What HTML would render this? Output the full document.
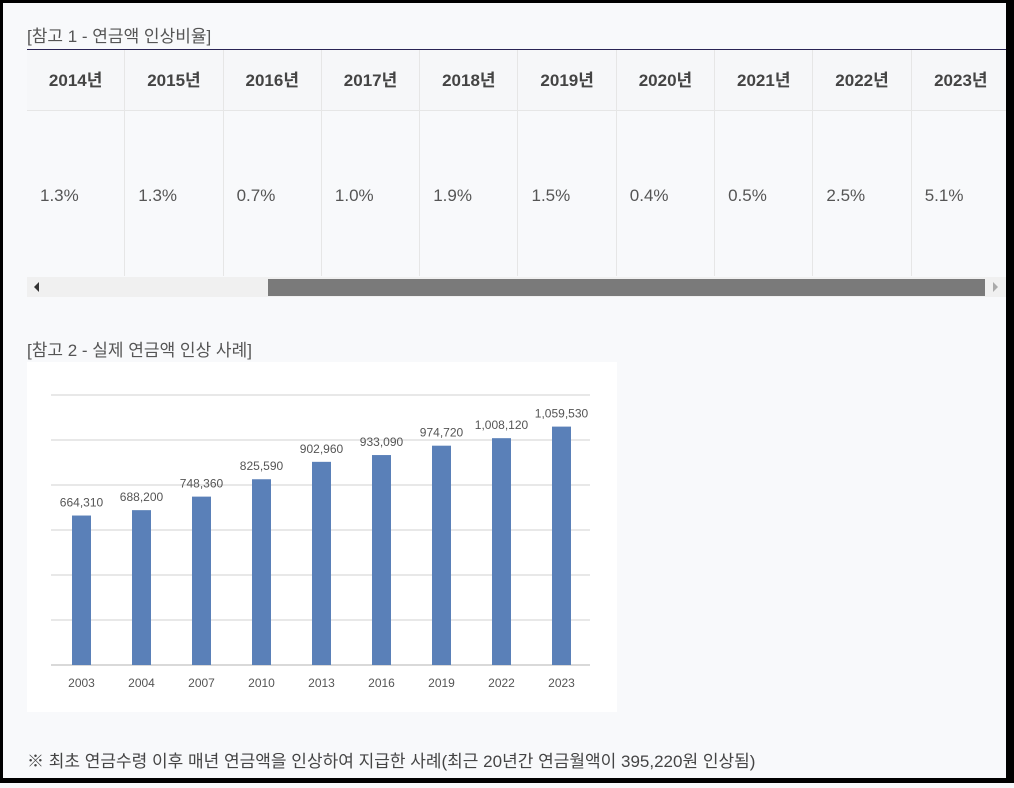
<!DOCTYPE html>
<html><head><meta charset="utf-8">
<style>
*{margin:0;padding:0;box-sizing:border-box}
body{width:1014px;height:788px;background:#f8f9fb;position:relative;overflow:hidden;font-family:"Liberation Sans","Noto Sans CJK KR",sans-serif;color:#444}
.abs{position:absolute}
.cell{position:absolute;border-right:1px solid #e6e6e6;}
.hd{font-size:17px;font-weight:bold;color:#444;text-align:center;line-height:61px;top:50px;height:61px}
.bd{font-size:17px;color:#555;top:111px;height:165px;line-height:170px;padding-left:13px}
</style></head><body>
<div class="abs" style="left:0;top:0;width:1014px;height:3px;background:#000"></div>
<div class="abs" style="left:0;top:0;width:3px;height:783px;background:#000"></div>
<div class="abs" style="left:1006px;top:0;width:8px;height:783px;background:#000"></div>
<div class="abs" style="left:0;top:778px;width:1014px;height:5px;background:#000"></div>

<div class="abs" style="left:27px;top:22px;font-size:17px;color:#555">[참고 1 - 연금액 인상비율]</div>
<div class="abs" style="left:27px;top:49px;width:979px;height:1px;background:#2a2455"></div>
<div class="abs" style="left:27px;top:50px;width:979px;height:61px;background:#f6f7f9;border-bottom:1px solid #e6e6e6"></div>
<div id="tbl"></div>
<div class="abs" style="left:27px;top:277px;width:979px;height:20px;background:#f0f0f0"></div>
<div class="abs" style="left:34px;top:282px;width:0;height:0;border-top:5px solid transparent;border-bottom:5px solid transparent;border-right:5px solid #333"></div>
<div class="abs" style="left:268px;top:279px;width:717px;height:17px;background:#7a7a7a"></div>
<div class="abs" style="left:993px;top:282px;width:0;height:0;border-top:5px solid transparent;border-bottom:5px solid transparent;border-left:5px solid #aaa"></div>

<div class="abs" style="left:27px;top:336px;font-size:17px;color:#555">[참고 2 - 실제 연금액 인상 사례]</div>
<svg class="abs" id="chart" style="left:27px;top:362px" width="590" height="350"></svg>

<div class="abs" style="left:27px;top:747px;font-size:17px;color:#444">※ 최초 연금수령 이후 매년 연금액을 인상하여 지급한 사례(최근 20년간 연금월액이 395,220원 인상됨)</div>

<script>
const tableYears=['2014년','2015년','2016년','2017년','2018년','2019년','2020년','2021년','2022년','2023년'];
const tableRates=['1.3%','1.3%','0.7%','1.0%','1.9%','1.5%','0.4%','0.5%','2.5%','5.1%'];
const categories=['2003','2004','2007','2010','2013','2016','2019','2022','2023'];
const values=[664310,688200,748360,825590,902960,933090,974720,1008120,1059530];
const valueLabels=['664,310','688,200','748,360','825,590','902,960','933,090','974,720','1,008,120','1,059,530'];
const gridTicks=[0,200000,400000,600000,800000,1000000,1200000];

const tbl=document.getElementById('tbl');
const cw=98.3;
tableYears.forEach((y,i)=>{
  const h=document.createElement('div');
  h.className='cell hd';
  
  
  h.style.left=(27+i*cw)+'px';h.style.width=cw+'px';
  if(i==9)h.style.borderRight='none';
  h.textContent=y;tbl.appendChild(h);
  const b=document.createElement('div');
  b.className='cell bd';
  
  
  b.style.left=(27+i*cw)+'px';b.style.width=cw+'px';
  if(i==9)b.style.borderRight='none';
  b.textContent=tableRates[i];tbl.appendChild(b);
});

const svg=document.getElementById('chart');
const NS='http://www.w3.org/2000/svg';
const x0=24,x1=563,base=303,yTop=33,vmax=1200000;
const yS=v=>base-(v/vmax)*(base-yTop);
const step=60,first=54.5,bw=19;
const xS=i=>first+i*step;
const bg=document.createElementNS(NS,'rect');


bg.setAttribute('width',590);bg.setAttribute('height',350);bg.setAttribute('fill','#fff');svg.appendChild(bg);
gridTicks.forEach(t=>{
  const l=document.createElementNS(NS,'line');
  
  
  l.setAttribute('x1',x0);l.setAttribute('x2',x1);l.setAttribute('y1',yS(t));l.setAttribute('y2',yS(t));
  l.setAttribute('stroke',t===0?'#d9d9d9':'#e8e8e8');l.setAttribute('stroke-width',2);svg.appendChild(l);
});
values.forEach((v,i)=>{
  const r=document.createElementNS(NS,'rect');
  
  
  r.setAttribute('x',xS(i)-bw/2);r.setAttribute('y',yS(v));r.setAttribute('width',bw);r.setAttribute('height',base-yS(v));
  r.setAttribute('fill','#5a80b8');svg.appendChild(r);
  const t=document.createElementNS(NS,'text');
  
  
  t.setAttribute('x',xS(i));t.setAttribute('y',yS(v)-9);t.setAttribute('text-anchor','middle');
  t.setAttribute('font-size',12);t.setAttribute('fill','#555');t.setAttribute('font-family','Liberation Sans, sans-serif');
  t.textContent=valueLabels[i];svg.appendChild(t);
  const c=document.createElementNS(NS,'text');
  
  
  c.setAttribute('x',xS(i));c.setAttribute('y',base+22);c.setAttribute('text-anchor','middle');
  c.setAttribute('font-size',12);c.setAttribute('fill','#555');c.setAttribute('font-family','Liberation Sans, sans-serif');
  c.textContent=categories[i];svg.appendChild(c);
});
</script>
</body></html>
